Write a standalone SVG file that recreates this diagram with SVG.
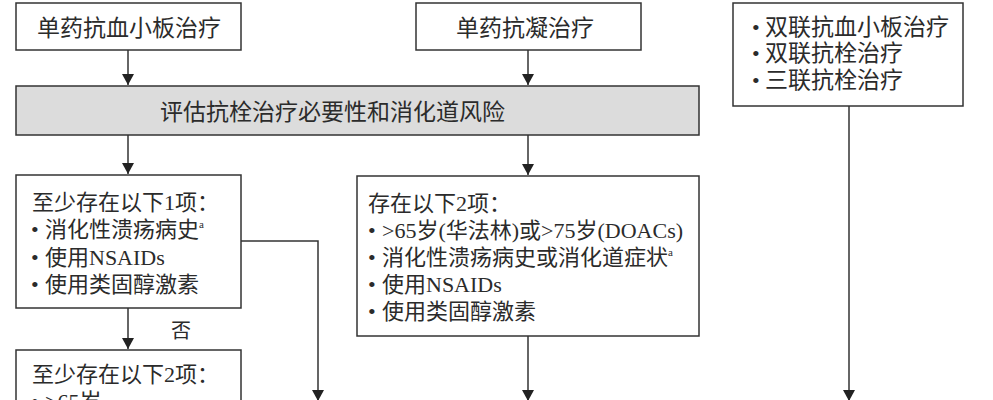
<svg xmlns="http://www.w3.org/2000/svg" width="993" height="400" viewBox="0 0 993 400">
<style>
.box{fill:#fff;stroke:#333;stroke-width:1.5}
.gray{fill:#dcdcdc;stroke:#333;stroke-width:1.5}
.t{font-family:"Liberation Serif","Noto Sans CJK SC",serif;font-size:22px;fill:#2b2b2b}
.b{font-size:23px}
.c{text-anchor:middle}
.sup{font-size:11px}
.ln{fill:none;stroke:#333;stroke-width:1.5}
</style>
<defs>
<marker id="ah" markerUnits="userSpaceOnUse" markerWidth="12" markerHeight="12" viewBox="0 0 12 12" refX="11" refY="6" orient="auto">
<path d="M0,0 L11,6 L0,12 Z" fill="#222"/>
</marker>
</defs>
<g id="connectors">
<path class="ln" d="M128,50 V85" marker-end="url(#ah)"/>
<path class="ln" d="M528,50 V85" marker-end="url(#ah)"/>
<path class="ln" d="M128,135 V174" marker-end="url(#ah)"/>
<path class="ln" d="M528,135 V175" marker-end="url(#ah)"/>
<path class="ln" d="M128,308 V349" marker-end="url(#ah)"/>
<path class="ln" d="M241,241 H318 V401" marker-end="url(#ah)"/>
<path class="ln" d="M528,336 V401" marker-end="url(#ah)"/>
<path class="ln" d="M849,106 V401" marker-end="url(#ah)"/>
<text class="t c" x="181" y="338" style="font-size:20px">否</text>
</g>
<g id="n1">
<rect class="box" x="16" y="3" width="225" height="47"/>
<text class="t b c" x="129" y="36">单药抗血小板治疗</text>
</g>
<g id="n2">
<rect class="box" x="416" y="3" width="225" height="47"/>
<text class="t b c" x="525" y="36">单药抗凝治疗</text>
</g>
<g id="n3">
<rect class="box" x="733" y="3" width="230" height="103"/>
<text class="t" x="752" y="35">•</text><text class="t b" x="765" y="35">双联抗血小板治疗</text>
<text class="t" x="752" y="61">•</text><text class="t b" x="765" y="61">双联抗栓治疗</text>
<text class="t" x="752" y="88">•</text><text class="t b" x="765" y="88">三联抗栓治疗</text>
</g>
<g id="n4">
<rect class="gray" x="16" y="86" width="683" height="49"/>
<text class="t b" x="160" y="120">评估抗栓治疗必要性和消化道风险</text>
</g>
<g id="n5">
<rect class="box" x="16" y="175" width="225" height="133"/>
<text class="t" x="32" y="210">至少存在以下1项：</text>
<text class="t" x="31" y="237">•</text><text class="t" x="45" y="237">消化性溃疡病史<tspan class="sup" dy="-9">a</tspan></text>
<text class="t" x="31" y="265">•</text><text class="t" x="45" y="265">使用NSAIDs</text>
<text class="t" x="31" y="292">•</text><text class="t" x="45" y="292">使用类固醇激素</text>
</g>
<g id="n6">
<rect class="box" x="357" y="176" width="342" height="160"/>
<text class="t" x="368" y="211">存在以下2项：</text>
<text class="t" x="368" y="238">•</text><text class="t" x="382" y="238">&gt;65岁(华法林)或&gt;75岁(DOACs)</text>
<text class="t" x="368" y="265">•</text><text class="t" x="382" y="265">消化性溃疡病史或消化道症状<tspan class="sup" dy="-9">a</tspan></text>
<text class="t" x="368" y="292">•</text><text class="t" x="382" y="292">使用NSAIDs</text>
<text class="t" x="368" y="319">•</text><text class="t" x="382" y="319">使用类固醇激素</text>
</g>
<g id="n7">
<rect class="box" x="16" y="350" width="225" height="70"/>
<text class="t" x="32" y="382">至少存在以下2项：</text>
<text class="t" x="31" y="409">•</text><text class="t" x="45" y="409">&gt;65岁</text>
</g>
</svg>
